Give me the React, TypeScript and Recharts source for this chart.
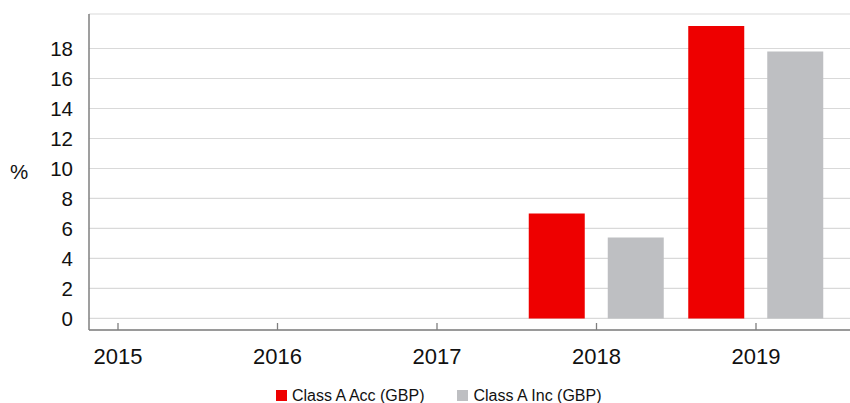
import { BarChart, Bar, XAxis, YAxis, CartesianGrid, Legend } from 'recharts';

const years = ['2015', '2016', '2017', '2018', '2019'];
const classAAcc = [null, null, null, 7.0, 19.5];
const classAInc = [null, null, null, 5.4, 17.8];
const yTicks = [0, 2, 4, 6, 8, 10, 12, 14, 16, 18];

const RED = '#ee0000';
const GREY = '#bebfc2';
const FONT = '"Liberation Sans", Arial, sans-serif';

const data = years.map((year, i) => ({
  year,
  acc: classAAcc[i],
  inc: classAInc[i],
}));

const XTick = ({ x, y, payload }: any) => (
  <g>
    <line x1={x} y1={y} x2={x} y2={y - 7} stroke="#7f7f7f" strokeWidth={1.3} />
    <text x={x} y={y + 34} textAnchor="middle" fill="#111" style={{ fontSize: 22, fontFamily: FONT }}>
      {payload.value}
    </text>
  </g>
);

const LegendBox = () => (
  <div
    style={{
      height: 15,
      lineHeight: '15px',
      display: 'flex',
      alignItems: 'center',
      paddingLeft: 276,
      fontFamily: FONT,
      fontSize: 16,
      color: '#111',
    }}
  >
    <span style={{ width: 11, height: 11, background: RED, marginRight: 5 }} />
    <span style={{ marginRight: 33 }}>Class A Acc (GBP)</span>
    <span style={{ width: 11, height: 11, background: GREY, marginRight: 5 }} />
    <span>Class A Inc (GBP)</span>
  </div>
);

export default function App() {
  return (
    <div style={{ position: 'absolute', left: 0, top: 0, background: '#fff' }}>
      <BarChart
        width={850}
        height={403}
        data={data}
        margin={{ top: 14, right: 0, left: 0, bottom: 0 }}
        barGap={23}
      >
        <CartesianGrid vertical={false} stroke="#d9d9d9" strokeWidth={1.2} />
        <XAxis
          dataKey="year"
          height={58}
          padding={{ left: -50.75, right: 14.25 }}
          tickSize={0}
          tickMargin={0}
          tick={<XTick />}
          axisLine={{ stroke: '#7f7f7f', strokeWidth: 1.5 }}
          interval={0}
        />
        <YAxis
          type="number"
          width={89}
          domain={[-0.77, 20.3]}
          ticks={yTicks}
          interval={0}
          tickLine={false}
          tickSize={0}
          tickMargin={16}
          axisLine={{ stroke: '#7f7f7f', strokeWidth: 1.5 }}
          tick={{ fontSize: 20.5, fill: '#111', fontFamily: FONT }}
          label={{ value: '%', angle: 0, position: 'insideLeft', offset: 10, fontSize: 20.5, fill: '#111', fontFamily: FONT }}
        />
        <Legend verticalAlign="bottom" content={<LegendBox />} />
        <Bar dataKey="acc" name="Class A Acc (GBP)" fill={RED} barSize={56} isAnimationActive={false} />
        <Bar dataKey="inc" name="Class A Inc (GBP)" fill={GREY} barSize={56} isAnimationActive={false} />
      </BarChart>
    </div>
  );
}
